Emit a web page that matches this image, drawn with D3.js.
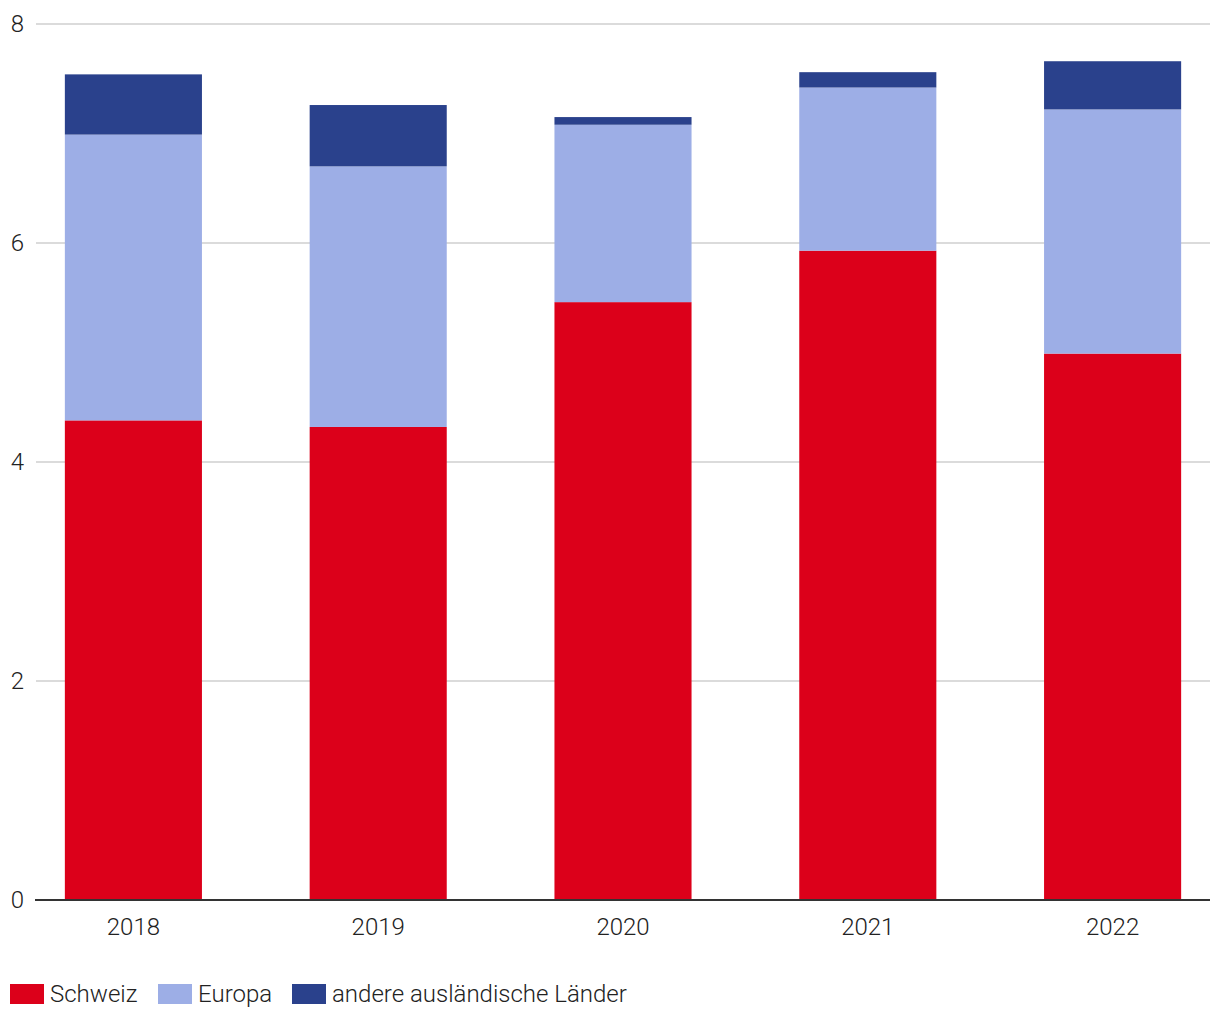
<!DOCTYPE html>
<html>
<head>
<meta charset="utf-8">
<script src="https://cdn.jsdelivr.net/npm/d3@7"></script>
<style>
  body { margin: 0; background: #fff; }
  svg text { font-family: Roboto, "Noto Sans", sans-serif; font-weight: 300; fill: #222; }
</style>
</head>
<body>
<div id="chart"></div>
<script>
const years = ['2018', '2019', '2020', '2021', '2022'];
const schweiz = [4.38, 4.32, 5.46, 5.93, 4.99];
const europa = [2.61, 2.38, 1.62, 1.49, 2.23];
const andere = [0.55, 0.56, 0.07, 0.14, 0.44];
const seriesNames = ['Schweiz', 'Europa', 'andere ausländische Länder'];
const seriesColors = ['#dc001a', '#9daee6', '#2a418c'];
const yTicks = [0, 2, 4, 6, 8];

const width = 1220, height = 1020;

const svg = d3.select('#chart')
  .append('svg')
  .attr('width', width)
  .attr('height', height);

// table for the stack layout
const rows = years.map((y, i) => ({
  year: y,
  'Schweiz': schweiz[i],
  'Europa': europa[i],
  'andere ausländische Länder': andere[i]
}));

const stacked = d3.stack().keys(seriesNames)(rows);

const x = d3.scaleBand()
  .domain(years)
  .range([11, 1235])
  .paddingInner(0.44)
  .paddingOuter(0.22);

const y = d3.scaleLinear()
  .domain([0, 8])
  .range([900, 24]);

// gridlines
svg.append('g')
  .selectAll('line')
  .data(yTicks.filter(d => d > 0))
  .enter()
  .append('line')
  .attr('x1', 36)
  .attr('x2', 1210)
  .attr('y1', d => y(d))
  .attr('y2', d => y(d))
  .attr('stroke', '#cfcfcf')
  .attr('stroke-width', 1.5);

// y labels
svg.append('g')
  .selectAll('text')
  .data(yTicks)
  .enter()
  .append('text')
  .attr('x', 24)
  .attr('y', d => y(d))
  .attr('dy', '0.35em')
  .attr('text-anchor', 'end')
  .style('font-size', '24px')
  .text(d => d);

// bars
svg.append('g')
  .selectAll('g')
  .data(stacked)
  .enter()
  .append('g')
  .attr('fill', (d, i) => seriesColors[i])
  .selectAll('rect')
  .data(d => d)
  .enter()
  .append('rect')
  .attr('x', d => x(d.data.year))
  .attr('y', d => y(d[1]))
  .attr('width', x.bandwidth())
  .attr('height', d => y(d[0]) - y(d[1]));

// x axis
const xAxis = svg.append('g')
  .attr('transform', `translate(0,${y(0)})`)
  .call(d3.axisBottom(x).tickSize(0).tickPadding(18));
xAxis.select('.domain')
  .attr('d', 'M35,0H1210')
  .attr('stroke', '#333')
  .attr('stroke-width', 2);
xAxis.selectAll('text')
  .style('font-family', 'Roboto, sans-serif')
  .style('font-weight', 300)
  .style('font-size', '24px')
  .attr('fill', '#222');

// legend
const legendX = [10, 158, 292];
const legend = svg.append('g')
  .selectAll('g')
  .data(seriesNames)
  .enter()
  .append('g')
  .attr('transform', (d, i) => `translate(${legendX[i]},984)`);

legend.append('rect')
  .attr('width', 34)
  .attr('height', 20)
  .attr('fill', (d, i) => seriesColors[i]);

legend.append('text')
  .attr('x', 40)
  .attr('y', 17.5)
  .style('font-size', '24px')
  .text(d => d);
</script>
</body>
</html>
